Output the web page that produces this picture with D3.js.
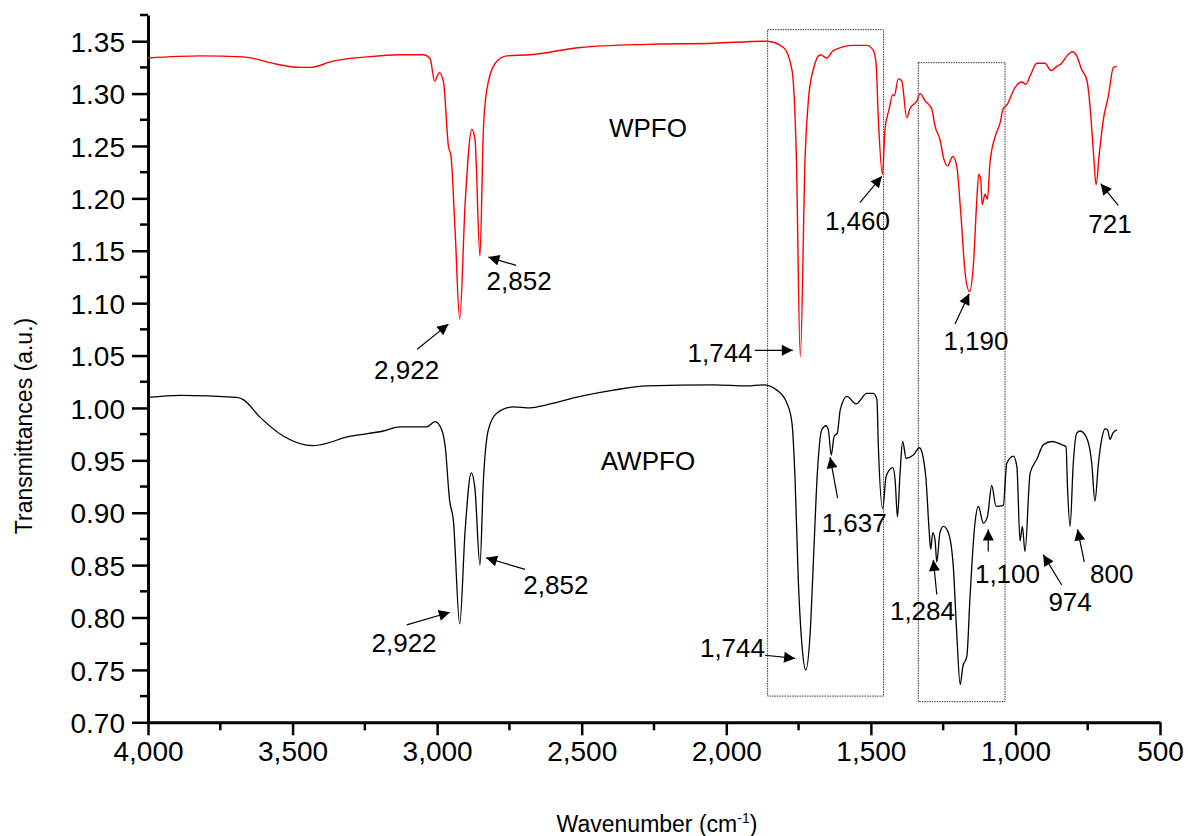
<!doctype html>
<html>
<head>
<meta charset="UTF-8">
<style>
  body { margin: 0; background: #fff; }
  svg text { font-family: "Liberation Sans", Arial, sans-serif; fill: #000; }
</style>
</head>
<body>
<svg id="chart" width="1188" height="836"></svg>
<script src="https://d3js.org/d3.v7.min.js"></script>
<script>

// WPFO spectrum (red): wavenumber and transmittance
var wpfoWave = [4000, 3820, 3671, 3554, 3474, 3439, 3360, 3243, 3128, 3048, 3024, 3009, 2992, 2978, 2961, 2952, 2938, 2922, 2903, 2880, 2869, 2852, 2840, 2828, 2799, 2759, 2678, 2505, 2275, 2045, 1860, 1802, 1773, 1758, 1744, 1727, 1716, 1699, 1675, 1652, 1630, 1560, 1514, 1491, 1482, 1474, 1460, 1451, 1437, 1424, 1419, 1405, 1393, 1376, 1364, 1341, 1330, 1312, 1289, 1278, 1261, 1247, 1235, 1217, 1203, 1189, 1174, 1159, 1145, 1134, 1127, 1120, 1115, 1105, 1097, 1088, 1070, 1053, 1042, 1030, 1001, 978, 964, 949, 926, 898, 877, 857, 840, 822, 803, 788, 771, 753, 742, 730, 721, 710, 696, 679, 661, 649];
var wpfoT = [1.334, 1.336, 1.335, 1.328, 1.325, 1.325, 1.331, 1.335, 1.337, 1.337, 1.333, 1.312, 1.320, 1.311, 1.250, 1.240, 1.170, 1.085, 1.196, 1.266, 1.256, 1.145, 1.266, 1.304, 1.329, 1.336, 1.337, 1.344, 1.347, 1.348, 1.350, 1.344, 1.323, 1.243, 1.049, 1.243, 1.294, 1.323, 1.337, 1.334, 1.341, 1.346, 1.346, 1.341, 1.329, 1.275, 1.223, 1.266, 1.285, 1.299, 1.298, 1.314, 1.312, 1.277, 1.286, 1.293, 1.300, 1.293, 1.285, 1.269, 1.256, 1.237, 1.231, 1.240, 1.231, 1.186, 1.129, 1.111, 1.138, 1.196, 1.223, 1.218, 1.194, 1.204, 1.199, 1.234, 1.259, 1.272, 1.286, 1.289, 1.306, 1.311, 1.309, 1.317, 1.329, 1.329, 1.322, 1.326, 1.329, 1.336, 1.340, 1.336, 1.323, 1.313, 1.288, 1.243, 1.213, 1.243, 1.275, 1.297, 1.325, 1.326];

// AWPFO spectrum (black)
var awpfoWave = [4000, 3889, 3693, 3671, 3612, 3531, 3428, 3301, 3186, 3128, 3082, 3036, 3007, 2984, 2972, 2957, 2944, 2922, 2903, 2882, 2869, 2852, 2840, 2823, 2794, 2736, 2678, 2621, 2505, 2390, 2275, 2044, 1929, 1872, 1825, 1791, 1773, 1762, 1751, 1739, 1725, 1710, 1699, 1685, 1670, 1655, 1647, 1637, 1627, 1616, 1606, 1583, 1551, 1514, 1491, 1479, 1474, 1459, 1447, 1424, 1416, 1408, 1399, 1390, 1378, 1353, 1332, 1320, 1309, 1298, 1293, 1286, 1278, 1272, 1261, 1249, 1232, 1215, 1203, 1191, 1182, 1168, 1157, 1140, 1128, 1111, 1097, 1082, 1067, 1042, 1030, 1007, 995, 984, 976, 967, 949, 926, 903, 874, 840, 825, 820, 811, 800, 788, 776, 753, 736, 725, 713, 701, 690, 681, 673, 663, 649];
var awpfoT = [1.010, 1.012, 1.010, 1.008, 0.991, 0.973, 0.964, 0.973, 0.978, 0.982, 0.982, 0.982, 0.987, 0.979, 0.963, 0.912, 0.893, 0.794, 0.884, 0.938, 0.922, 0.850, 0.931, 0.979, 0.995, 1.001, 1.000, 1.003, 1.011, 1.017, 1.021, 1.022, 1.021, 1.022, 1.017, 1.005, 0.986, 0.931, 0.836, 0.776, 0.750, 0.785, 0.852, 0.938, 0.979, 0.983, 0.979, 0.955, 0.973, 0.976, 0.998, 1.011, 1.004, 1.014, 1.014, 1.008, 0.963, 0.904, 0.935, 0.943, 0.931, 0.896, 0.938, 0.968, 0.952, 0.955, 0.962, 0.954, 0.931, 0.881, 0.865, 0.881, 0.874, 0.853, 0.881, 0.887, 0.881, 0.849, 0.785, 0.736, 0.753, 0.763, 0.820, 0.890, 0.906, 0.890, 0.896, 0.926, 0.906, 0.907, 0.947, 0.954, 0.944, 0.873, 0.887, 0.863, 0.938, 0.951, 0.965, 0.968, 0.965, 0.963, 0.925, 0.887, 0.947, 0.976, 0.978, 0.971, 0.947, 0.911, 0.947, 0.971, 0.980, 0.979, 0.970, 0.976, 0.979];

// axis ticks
var xTicks = [4000, 3500, 3000, 2500, 2000, 1500, 1000, 500];
var yTicks = [0.70, 0.75, 0.80, 0.85, 0.90, 0.95, 1.00, 1.05, 1.10, 1.15, 1.20, 1.25, 1.30, 1.35];

// peak labels: text, text anchor point, arrow start, arrow tip (data space)
var labelText = ["2,922", "2,852", "1,744", "1,460", "1,190", "721",
                 "2,922", "2,852", "1,744", "1,637", "1,284", "1,100", "974", "800"];
var labelAt = [[2993, 1.028], [2829, 1.113], [1909, 1.044], [1659, 1.170], [1249, 1.055], [748, 1.167],
               [3002, 0.767], [2702, 0.822], [1866, 0.762], [1670, 0.882], [1434, 0.798], [1140, 0.833], [886, 0.806], [742, 0.833]];
var labelAnchor = ["end", "start", "end", "start", "start", "start",
                   "end", "start", "end", "start", "start", "start", "start", "start"];
var arrowFrom = [[3069, 1.056], [2727, 1.136], [1901, 1.055], [1538, 1.196], [1209, 1.080], [644, 1.193],
                 [3105, 0.793], [2696, 0.846], [1866, 0.764], [1615, 0.914], [1272, 0.822], [1094, 0.863], [840, 0.831], [762, 0.853]];
var arrowTo = [[2961, 1.080], [2823, 1.144], [1770, 1.055], [1462, 1.221], [1160, 1.109], [705, 1.214],
               [2956, 0.805], [2831, 0.857], [1762, 0.761], [1641, 0.953], [1284, 0.855], [1094, 0.884], [904, 0.860], [785, 0.884]];

// dotted boxes [left, right, top, bottom]
var boxes = [[1857, 1456, 1.361, 0.725], [1336, 1036, 1.3295, 0.7197]];

var svg = d3.select("#chart");

var x = d3.scaleLinear().domain([4000, 500]).range([148, 1160]);
var y = d3.scaleLinear().domain([0.70, 1.375]).range([722.3, 15]);

// minor ticks
var xMinor = d3.range(3750, 500, -500);
var yMinor = d3.range(0.725, 1.376, 0.05);

svg.append("g")
    .attr("transform", "translate(0,722.3)")
    .selectAll("line").data(xMinor).enter().append("line")
    .attr("x1", d => x(d)).attr("x2", d => x(d))
    .attr("y1", 0).attr("y2", 8)
    .attr("stroke", "#000").attr("stroke-width", 2.5);

svg.append("g")
    .attr("transform", "translate(148,0)")
    .selectAll("line").data(yMinor).enter().append("line")
    .attr("y1", d => y(d)).attr("y2", d => y(d))
    .attr("x1", 0).attr("x2", -8)
    .attr("stroke", "#000").attr("stroke-width", 2.5);

var xAxis = svg.append("g")
    .attr("transform", "translate(0,722.3)")
    .call(d3.axisBottom(x).tickValues(xTicks).tickFormat(d3.format(",")).tickSize(13).tickSizeOuter(0).tickPadding(6));

var yAxis = svg.append("g")
    .attr("transform", "translate(148,0)")
    .call(d3.axisLeft(y).tickValues(yTicks).tickFormat(d3.format(".2f")).tickSize(16).tickSizeOuter(0).tickPadding(7));

[xAxis, yAxis].forEach(function (g) {
    g.select(".domain").attr("stroke", "#000").attr("stroke-width", 3);
    g.selectAll(".tick line").attr("stroke", "#000").attr("stroke-width", 2.5);
    g.selectAll(".tick text").attr("font-size", 28).attr("fill", "#000")
        .attr("font-family", "'Liberation Sans', Arial, sans-serif");
});
yAxis.selectAll(".tick text").attr("dy", "0.36em");

// dotted boxes
svg.append("g").selectAll("rect").data(boxes).enter().append("rect")
    .attr("x", d => x(d[0]))
    .attr("y", d => y(d[2]))
    .attr("width", d => x(d[1]) - x(d[0]))
    .attr("height", d => y(d[3]) - y(d[2]))
    .attr("fill", "none")
    .attr("stroke", "#333")
    .attr("stroke-width", 1)
    .attr("stroke-dasharray", "1.5,1");

// spectra
var line = d3.line().x(d => x(d[0])).y(d => y(d[1])).curve(d3.curveMonotoneX);

svg.append("path")
    .datum(d3.zip(wpfoWave, wpfoT))
    .attr("d", line)
    .attr("fill", "none")
    .attr("stroke", "#ff0000")
    .attr("stroke-width", 1.4)
    .attr("stroke-linejoin", "round");

svg.append("path")
    .datum(d3.zip(awpfoWave, awpfoT))
    .attr("d", line)
    .attr("fill", "none")
    .attr("stroke", "#000")
    .attr("stroke-width", 1.3)
    .attr("stroke-linejoin", "round");

// arrows
svg.append("defs").append("marker")
    .attr("id", "head")
    .attr("viewBox", "0 0 10 10")
    .attr("refX", 10).attr("refY", 5)
    .attr("markerUnits", "userSpaceOnUse")
    .attr("markerWidth", 20).attr("markerHeight", 11)
    .attr("orient", "auto")
    .append("path").attr("d", "M0,0L10,5L0,10Z").attr("fill", "#000");

svg.append("g").selectAll("line").data(arrowFrom).enter().append("line")
    .attr("x1", d => x(d[0])).attr("y1", d => y(d[1]))
    .attr("x2", (d, i) => x(arrowTo[i][0])).attr("y2", (d, i) => y(arrowTo[i][1]))
    .attr("stroke", "#000").attr("stroke-width", 1.2)
    .attr("marker-end", "url(#head)");

svg.append("g").selectAll("text").data(labelText).enter().append("text")
    .attr("x", (d, i) => x(labelAt[i][0]))
    .attr("y", (d, i) => y(labelAt[i][1]))
    .attr("text-anchor", (d, i) => labelAnchor[i])
    .attr("font-size", 26)
    .text(d => d);

// sample names
svg.append("text").attr("x", x(2271)).attr("y", y(1.259))
    .attr("text-anchor", "middle").attr("font-size", 26).text("WPFO");
svg.append("text").attr("x", x(2271)).attr("y", y(0.9408))
    .attr("text-anchor", "middle").attr("font-size", 26).text("AWPFO");

// axis titles
svg.append("text")
    .attr("transform", "translate(32,426) rotate(-90)")
    .attr("text-anchor", "middle")
    .attr("font-size", 23)
    .text("Transmittances (a.u.)");

var xt = svg.append("text")
    .attr("x", 657).attr("y", 831.5)
    .attr("text-anchor", "middle")
    .attr("font-size", 23)
    .text("Wavenumber (cm");
xt.append("tspan").attr("font-size", 14).attr("dy", -9).text("-1");
xt.append("tspan").attr("dy", 9).text(")");

</script>
</body>
</html>
